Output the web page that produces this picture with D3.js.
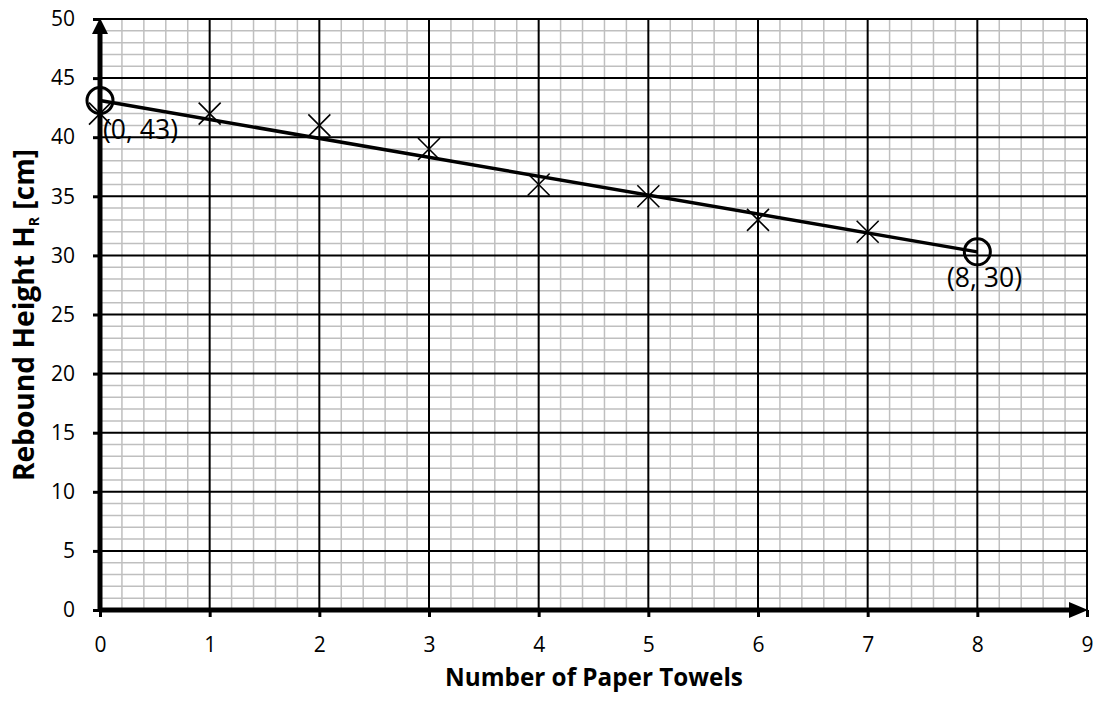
<!DOCTYPE html>
<html><head><meta charset="utf-8">
<script src="https://cdn.jsdelivr.net/npm/d3@7"></script>
<style>body{margin:0;background:#fff}svg{display:block}</style>
</head><body>
<svg id="c" width="1097" height="707"></svg>
<script>
const towels = [0, 1, 2, 3, 4, 5, 6, 7];
const rebound = [42, 42, 41, 39, 36, 35, 33, 32];
const fitLine = [[0, 43.1], [8, 30.3]];
const fitLabels = ["(0, 43)", "(8, 30)"];
const xTicks = [0,1,2,3,4,5,6,7,8,9];
const yTicks = [0,5,10,15,20,25,30,35,40,45,50];
const xTitle = "Number of Paper Towels";

const svg = d3.select("#c");
const font = "'Open Sans', sans-serif";
const x = d3.scaleLinear().domain([0, 9]).range([100, 1087]);
const y = d3.scaleLinear().domain([0, 50]).range([610, 19]);

function fitWidth(sel, target) {
  const w = sel.node().getComputedTextLength();
  const fs = parseFloat(sel.attr("font-size"));
  sel.attr("font-size", fs * target / w);
}

const g = svg.append("g");
const xMinor = d3.range(0, 9.001, 0.2).filter(v => Math.abs(v - Math.round(v)) > 1e-6);
const yMinor = d3.range(0, 50.001, 1).filter(v => v % 5 !== 0);
g.selectAll(".xm").data(xMinor).join("line")
  .attr("x1", d => x(d)).attr("x2", d => x(d)).attr("y1", y(0)).attr("y2", y(50))
  .attr("stroke", "#bfbfbf").attr("stroke-width", 1.5);
g.selectAll(".ym").data(yMinor).join("line")
  .attr("x1", x(0)).attr("x2", x(9)).attr("y1", d => y(d)).attr("y2", d => y(d))
  .attr("stroke", "#bfbfbf").attr("stroke-width", 1.5);
g.selectAll(".xM").data(xTicks.slice(1)).join("line")
  .attr("x1", d => x(d)).attr("x2", d => x(d)).attr("y1", y(0)).attr("y2", y(50))
  .attr("stroke", "#000").attr("stroke-width", 2);
g.selectAll(".yM").data(yTicks.slice(1)).join("line")
  .attr("x1", x(0)).attr("x2", x(9)).attr("y1", d => y(d)).attr("y2", d => y(d))
  .attr("stroke", "#000").attr("stroke-width", 2);

const xAxis = d3.axisBottom(x).tickValues(xTicks).tickSize(7).tickPadding(20);
const yAxis = d3.axisLeft(y).tickValues(yTicks).tickSize(7).tickPadding(18);
const gx = svg.append("g").attr("transform", `translate(0,${y(0)})`).call(xAxis);
const gy = svg.append("g").attr("transform", `translate(${x(0)},0)`).call(yAxis);
[gx, gy].forEach(a => {
  a.select(".domain").remove();
  a.selectAll(".tick line").attr("stroke", "#000").attr("stroke-width", 3);
  a.selectAll(".tick text").attr("font-family", font).attr("font-size", 21).attr("fill", "#000");
});
svg.append("line").attr("x1", x(0)).attr("x2", x(9) - 14).attr("y1", y(0)).attr("y2", y(0))
  .attr("stroke", "#000").attr("stroke-width", 5);
svg.append("line").attr("x1", x(0)).attr("x2", x(0)).attr("y1", y(0) + 2).attr("y2", y(50) + 14)
  .attr("stroke", "#000").attr("stroke-width", 5);
svg.append("path").attr("d", `M${x(0)-8},${y(50)+15} L${x(0)+8},${y(50)+15} L${x(0)},${y(50)-1} Z`).attr("fill", "#000");
svg.append("path").attr("d", `M${x(9)-18},${y(0)-8} L${x(9)-18},${y(0)+8} L${x(9)+1},${y(0)} Z`).attr("fill", "#000");

const line = d3.line().x(d => x(d[0])).y(d => y(d[1]));
svg.append("path").attr("d", line(fitLine)).attr("fill", "none").attr("stroke", "#000").attr("stroke-width", 3.5);

const s = 11;
svg.selectAll(".pt").data(towels.map((t, i) => [t, rebound[i]])).join("path")
  .attr("d", d => { const cx = x(d[0]), cy = y(d[1]);
    return `M${cx-s},${cy-s}L${cx+s},${cy+s}M${cx-s},${cy+s}L${cx+s},${cy-s}`; })
  .attr("stroke", "#000").attr("stroke-width", 1.6).attr("fill", "none");

svg.selectAll(".circ").data(fitLine).join("circle")
  .attr("cx", d => x(d[0])).attr("cy", d => y(d[1])).attr("r", 13)
  .attr("fill", "none").attr("stroke", "#000").attr("stroke-width", 3);

const l1 = svg.append("text").attr("x", 103).attr("y", 139)
  .attr("font-family", font).attr("font-size", 22).text(fitLabels[0]);
fitWidth(l1, 75);
const l2 = svg.append("text").attr("x", 984.5).attr("y", 287).attr("text-anchor", "middle")
  .attr("font-family", font).attr("font-size", 22).text(fitLabels[1]);
fitWidth(l2, 75);

const xt = svg.append("text").attr("x", 594).attr("y", 686).attr("text-anchor", "middle")
  .attr("font-family", font).attr("font-size", 22).attr("font-weight", "bold").text(xTitle);
fitWidth(xt, 298);
const yt = svg.append("text").attr("transform", "translate(34,315) rotate(-90)").attr("text-anchor", "middle")
  .attr("font-family", font).attr("font-size", 22).attr("font-weight", "bold");
yt.append("tspan").text("Rebound Height H");
yt.append("tspan").attr("font-size", 14).attr("dy", 5).text("R");
yt.append("tspan").attr("dy", -5).text(" [cm]");
fitWidth(yt, 335);
</script>
</body></html>
